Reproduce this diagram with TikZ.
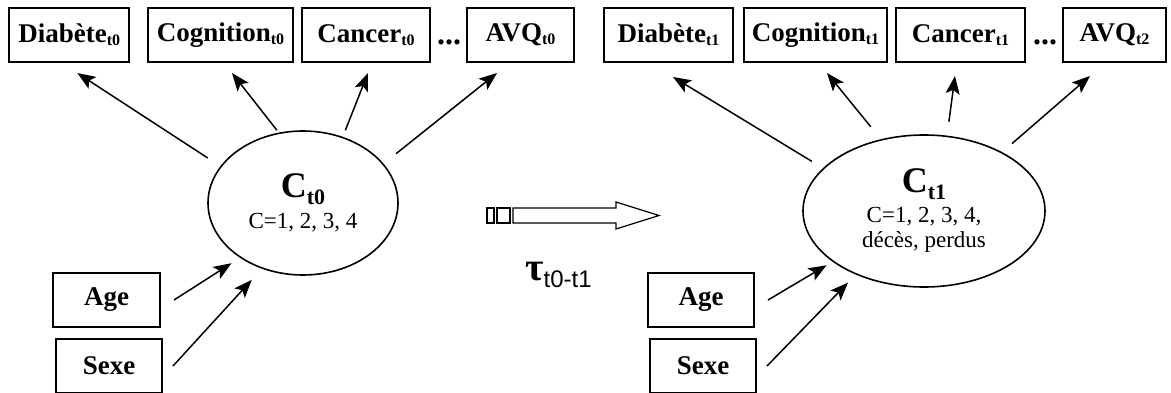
\documentclass[tikz,border=0pt]{standalone}
\usepackage{fontspec}
\setmainfont{Liberation Serif}
\newfontfamily\sansfont{Liberation Sans}
\usetikzlibrary{arrows.meta,shapes.geometric}
\newcommand{\tsub}[3]{\raisebox{-#2pt}{\fontsize{#1}{#1}\selectfont #3}}
\tikzset{
 varbox/.style={draw,line width=2pt,minimum height=54pt,inner sep=0,font=\fontsize{27}{29}\selectfont\bfseries},
 latent/.style={ellipse,draw,line width=1.6pt,inner sep=0,align=center,font=\fontsize{23}{25}\selectfont},
 link/.style={line width=1.5pt,-{Stealth[length=18pt,width=14pt,inset=4pt]}},
 etc/.style={inner sep=0,font=\fontsize{32}{32}\selectfont\bfseries},
 blockarrow/.style={line width=1.2pt}
}

\begin{document}
\begin{tikzpicture}[x=1pt,y=1pt]
\path[use as bounding box] (0,0) rectangle (1171,392);
% time t0
\node[varbox,minimum width=120pt] (D0) at (69.3,357) {Diabète\tsub{16}{3}{t0}};
\node[varbox,minimum width=145pt] (G0) at (220.5,357) {Cognition\tsub{16}{3}{t0}};
\node[varbox,minimum width=128pt] (K0) at (366,357) {Cancer\tsub{16}{3}{t0}};
\node[etc] (E0) at (449,350) {...};
\node[varbox,minimum width=107pt] (A0) at (520.5,357) {AVQ\tsub{16}{3}{t0}};
\node[latent,minimum width=190pt,minimum height=144pt] (C0) at (303,189)
 {{\fontsize{36}{36}\selectfont\bfseries C\tsub{22}{7}{t0}}\\[6pt] C=1, 2, 3, 4};
\node[varbox,minimum width=107pt] (Age0) at (106.5,92) {Age};
\node[varbox,minimum width=106pt] (Sexe0) at (109,26) {Sexe};
\draw[link,shorten <=15pt] (C0.156) -- ([xshift=8pt,yshift=-10pt]D0.south);
\draw[link,shorten <=3pt] (C0.109) -- ([xshift=11.5pt,yshift=-10pt]G0.south);
\draw[link,shorten <=7pt] (C0.59) -- ([xshift=2pt,yshift=-10pt]K0.south);
\draw[link,shorten <=16pt] (C0.26) -- ([xshift=-23.5pt,yshift=-10pt]A0.south);
\draw[link,shorten >=10pt] ([xshift=13pt]Age0.east) -- (C0.221.5);
\draw[link,shorten >=15pt] ([xshift=10pt]Sexe0.east) -- (C0.238.7);
% transition
\draw[blockarrow] (487,169) rectangle (494,184);
\draw[blockarrow] (497,169) rectangle (510,184);
\draw[blockarrow] (513,169) -- (616,169) -- (616,163) -- (659,176.5) -- (616,190) -- (616,184) -- (513,184) -- cycle;
\node[anchor=base west,inner sep=0] (tau) at (525,112)
 {{\fontsize{40}{40}\selectfont\bfseries τ}\tsub{24}{7}{\sansfont t0-t1}};
% time t1
\node[varbox,minimum width=129pt] (D1) at (668.5,357) {Diabète\tsub{16}{3}{t1}};
\node[varbox,minimum width=143pt] (G1) at (815.5,357) {Cognition\tsub{16}{3}{t1}};
\node[varbox,minimum width=129pt] (K1) at (960.5,357) {Cancer\tsub{16}{3}{t1}};
\node[etc] (E1) at (1045,350) {...};
\node[varbox,minimum width=103pt] (A1) at (1114.5,357) {AVQ\tsub{16}{3}{t2}};
\node[latent,minimum width=242pt,minimum height=152pt] (C1) at (924,181)
 {{\fontsize{36}{36}\selectfont\bfseries C\tsub{22}{7}{t1}}\\[5pt] C=1, 2, 3, 4,\\ décès, perdus};
\node[varbox,minimum width=106pt] (Age1) at (701,92) {Age};
\node[varbox,minimum width=106pt] (Sexe1) at (703,26) {Sexe};
\draw[link,shorten <=13pt] (C1.157) -- ([xshift=4.5pt,yshift=-14pt]D1.south);
\draw[link,shorten <=16pt] (C1.121.5) -- ([xshift=11.5pt,yshift=-10pt]G1.south);
\draw[link,shorten <=14pt] (C1.73.5) -- ([xshift=-5.5pt,yshift=-13pt]K1.south);
\draw[link,shorten <=13pt] (C1.37) -- ([xshift=-24.5pt,yshift=-13pt]A1.south);
\draw[link,shorten >=7pt] ([xshift=13pt]Age1.east) -- (C1.209.8);
\draw[link,shorten >=11pt] ([xshift=10pt]Sexe1.east) -- (C1.223.4);
\end{tikzpicture}
\end{document}
